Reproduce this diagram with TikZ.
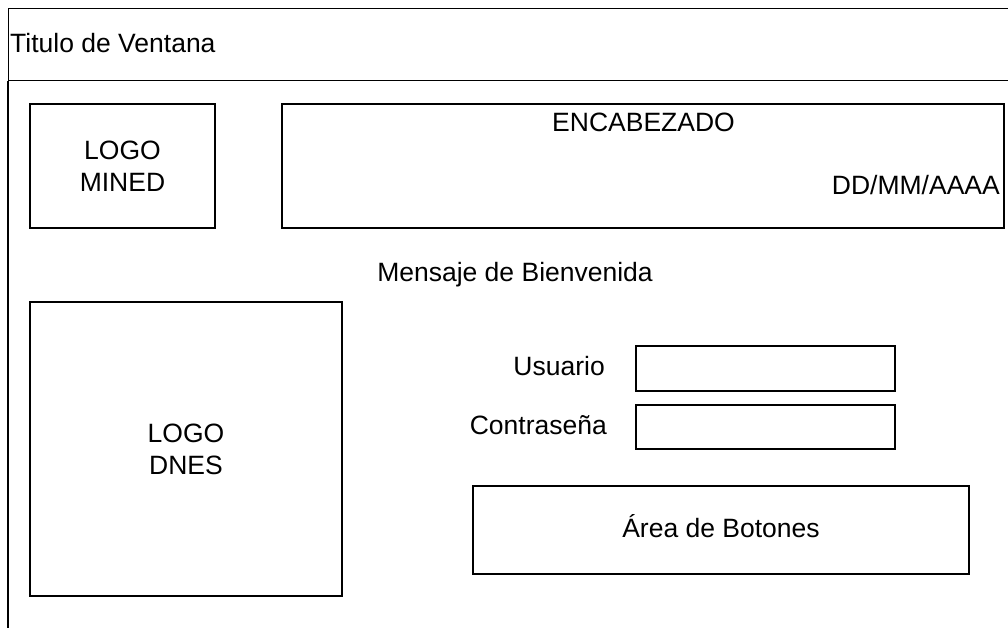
\documentclass[tikz,border=0pt]{standalone}
\usepackage{fontspec}
\setmainfont{Liberation Sans}
\begin{document}
\begin{tikzpicture}[x=1pt,y=-1pt,
  box/.style={draw=black,line width=1.3pt,rectangle,inner sep=0pt,align=center,font=\fontsize{26.5}{32}\selectfont},
  lbl/.style={inner sep=0pt,font=\fontsize{26.5}{32}\selectfont},
  frame/.style={draw=black,line width=1.2pt}]
\useasboundingbox (0,0) rectangle (1008,628);
% window frame
\node[frame,rectangle,inner sep=0pt,minimum width=1010pt,minimum height=72pt,anchor=north west] (titlebar) at (8,8) {};
\coordinate (fbot) at (8,632);
\draw[frame] (titlebar.south west) -- (fbot);
\node[lbl,anchor=base west] (title) at (10,53) {Titulo de Ventana};
% boxes
\node[box,minimum width=185pt,minimum height=124pt] (mined) at (122.5,166) {LOGO\\MINED};
\node[box,minimum width=722pt,minimum height=124pt] (enc) at (643,166) {};
\node[lbl,anchor=base] (enct) at (643.5,132) {ENCABEZADO};
\node[lbl,anchor=base east] (date) at (1000,195) {DD/MM/AAAA};
\node[lbl,anchor=base] (msg) at (515,281) {Mensaje de Bienvenida};
\node[box,minimum width=312pt,minimum height=294pt] (dnes) at (186,449) {LOGO\\DNES};
\node[lbl,anchor=base east] (usr) at (605,375) {Usuario};
\node[lbl,anchor=base east] (pwd) at (607,434) {Contraseña};
\node[box,minimum width=259pt,minimum height=45pt] (usrbox) at (765.5,368.5) {};
\node[box,minimum width=259pt,minimum height=44pt] (pwdbox) at (765.5,427) {};
\node[box,minimum width=496pt,minimum height=88pt] (btn) at (721,530) {};
\node[lbl,anchor=base] (btnt) at (721,537) {Área de Botones};
\end{tikzpicture}
\end{document}
